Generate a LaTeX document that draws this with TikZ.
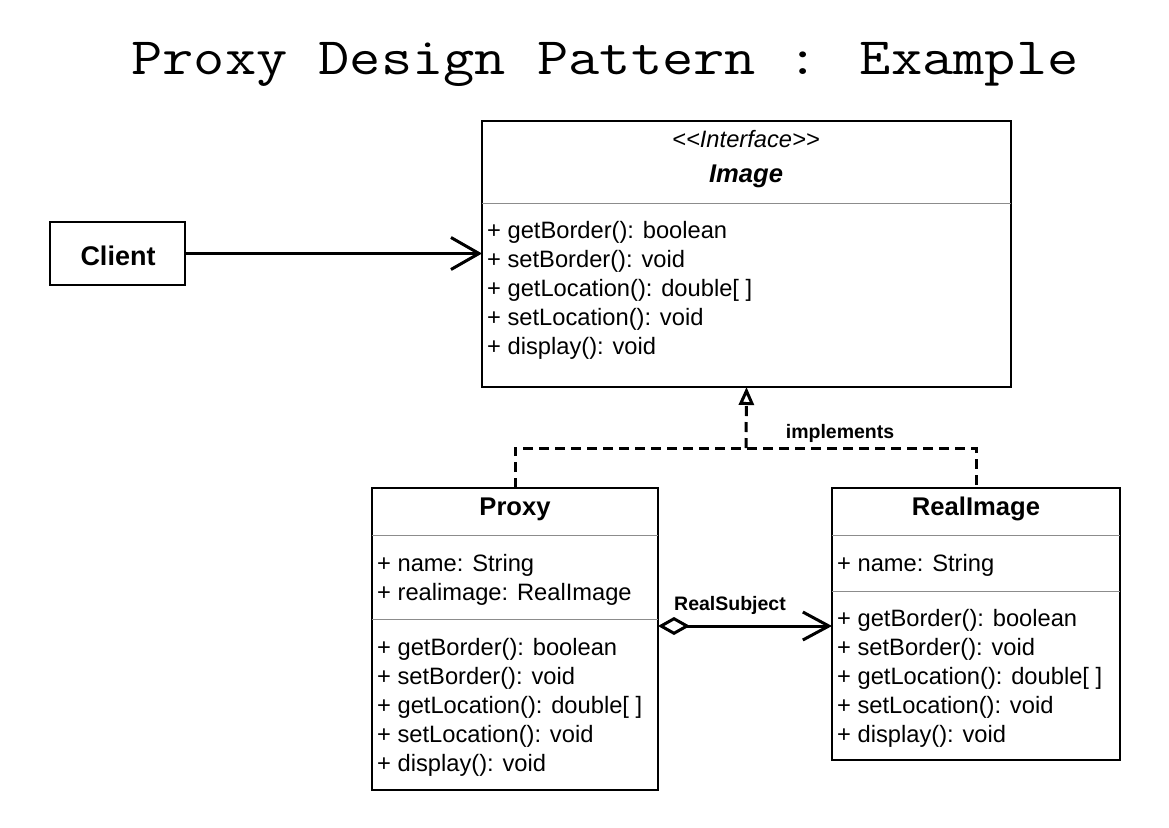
\documentclass[tikz,border=0pt]{standalone}
\usepackage{fontspec}
\setmainfont{Liberation Sans}
\newfontfamily\titlefont[FakeStretch=1.155]{Latin Modern Mono}
\usetikzlibrary{arrows.meta}
\begin{document}
\begin{tikzpicture}[x=1pt,y=-1pt,
  box/.style={draw=black, line width=1.3pt, fill=white, inner sep=0pt, outer sep=0pt, anchor=north west},
  div/.style={draw=black!45, line width=1pt},
  txt/.style={anchor=base west, inner sep=0pt, font=\fontsize{23.7}{28}\selectfont},
  hdr/.style={anchor=base, inner sep=0pt, font=\bfseries\fontsize{25.6}{30}\selectfont},
  lbl/.style={anchor=base, inner sep=0pt, font=\bfseries\fontsize{19.5}{23}\selectfont},
  conn/.style={line width=3pt},
  dsh/.style={line width=3pt, dash pattern=on 10pt off 6pt}
]
\useasboundingbox (0,0) rectangle (1169,827);

\node[anchor=base, inner sep=0pt, font=\titlefont\fontsize{52.5}{60}\selectfont] (title) at (605,74) {Proxy Design Pattern : Example};

% Client
\node[box, minimum width=135pt, minimum height=63pt] (client) at (50,222) {};
\node[inner sep=0pt, font=\bfseries\fontsize{27}{32}\selectfont] (clientt) at (118,256) {Client};

% Image interface
\node[box, minimum width=529pt, minimum height=266pt] (img) at (482,121) {};
\draw[div] (img.west |- 0,203) -- (img.east |- 0,203);
\node[anchor=base, inner sep=0pt, font=\itshape\fontsize{23.7}{28}\selectfont] (imgst) at (746,147) {<\kern0pt<Interface>\kern0pt>};
\node[hdr, font=\bfseries\itshape\fontsize{25.6}{30}\selectfont] (imgn) at (746,182) {Image};
\node[txt] (im1) at (487,238) {+ getBorder(): boolean};
\node[txt] (im2) at (487,267) {+ setBorder(): void};
\node[txt] (im3) at (487,296) {+ getLocation(): double[ ]};
\node[txt] (im4) at (487,325) {+ setLocation(): void};
\node[txt] (im5) at (487,354) {+ display(): void};

% Proxy
\node[box, minimum width=286pt, minimum height=302pt] (proxy) at (372,488) {};
\draw[div] (proxy.west |- 0,535) -- (proxy.east |- 0,535);
\draw[div] (proxy.west |- 0,619) -- (proxy.east |- 0,619);
\node[hdr] (proxyn) at (515,515) {Proxy};
\node[txt] (pa1) at (377,571) {+ name: String};
\node[txt] (pa2) at (377,600) {+ realimage: RealImage};
\node[txt] (pm1) at (377,655) {+ getBorder(): boolean};
\node[txt] (pm2) at (377,684) {+ setBorder(): void};
\node[txt] (pm3) at (377,713) {+ getLocation(): double[ ]};
\node[txt] (pm4) at (377,742) {+ setLocation(): void};
\node[txt] (pm5) at (377,771) {+ display(): void};

% RealImage
\node[box, minimum width=288pt, minimum height=272pt] (ri) at (832,488) {};
\draw[div] (ri.west |- 0,535) -- (ri.east |- 0,535);
\draw[div] (ri.west |- 0,591) -- (ri.east |- 0,591);
\node[hdr] (rin) at (976,515) {RealImage};
\node[txt] (ra1) at (837,571) {+ name: String};
\node[txt] (rm1) at (837,626) {+ getBorder(): boolean};
\node[txt] (rm2) at (837,655) {+ setBorder(): void};
\node[txt] (rm3) at (837,684) {+ getLocation(): double[ ]};
\node[txt] (rm4) at (837,713) {+ setLocation(): void};
\node[txt] (rm5) at (837,742) {+ display(): void};

% Client -> Image
\draw[conn, -{Straight Barb[length=28pt, width=32pt]}] (client.east) -- (img.west |- client.east);

% implements
\coordinate (j) at (746,448);
\draw[dsh] (proxy.north) -- (proxy.north |- j) -- (ri.north |- j) -- (ri.north);
\draw[dsh, -{Triangle[open, length=18pt, width=15pt]}] (j) -- (img.south);
\node[lbl] (impl) at (840,438) {implements};

% aggregation
\draw[conn, {Diamond[open, length=32pt, width=18pt]}-{Straight Barb[length=26pt, width=28pt]}] (proxy.east |- 0,626) -- (ri.west |- 0,626);
\node[lbl] (rs) at (730,610) {RealSubject};
\end{tikzpicture}
\end{document}
